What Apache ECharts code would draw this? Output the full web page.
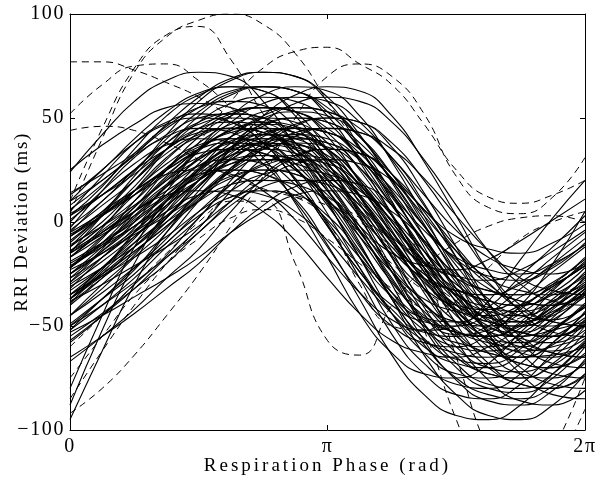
<!DOCTYPE html>
<html>
<head>
<meta charset="utf-8">
<script src="https://cdn.jsdelivr.net/npm/echarts@6/dist/echarts.min.js"></script>
<style>html,body{margin:0;padding:0;background:#fff}#c{width:606px;height:483px}</style>
</head>
<body>
<div id="c"></div>
<script>
// phase in units of pi (0 .. 2pi, step pi/8)
const phase = [0, 0.125, 0.25, 0.375, 0.5, 0.625, 0.75, 0.875, 1, 1.125, 1.25, 1.375, 1.5, 1.625, 1.75, 1.875, 2];
const xTickLabels = {0: '0', 1: 'π', 2: '2π'};
const yTicks = [-100, -50, 0, 50, 100];
const xTitle = 'Respiration Phase (rad)';
const yTitle = 'RRI Deviation (ms)';

// solid curves: RRI deviation (ms) at each phase
const solidCurves = [
  [24, 42, 58, 68, 72, 70, 58, 36, 10, -17, -36, -46, -48, -41, -26, -12, 3],
  [25, 37, 47, 55, 57, 55, 47, 33, 15, -2, -15, -21, -23, -18, -9, 1, 11],
  [-2, 10, 25, 38, 47, 50, 48, 38, 20, -2, -24, -40, -48, -50, -44, -32, -20],
  [-12, 0, 15, 28, 37, 40, 38, 28, 10, -12, -34, -50, -58, -60, -54, -42, -30],
  [3, 17, 35, 51, 61, 65, 63, 51, 29, 3, -24, -43, -53, -55, -48, -33, -19],
  [-17, -7, 5, 15, 23, 25, 23, 15, 1, -17, -34, -47, -53, -55, -50, -41, -31],
  [-22, -10, 2, 17, 30, 39, 42, 40, 30, 12, -10, -32, -48, -56, -58, -52, -40],
  [-9, 3, 15, 30, 43, 52, 55, 53, 43, 25, 3, -19, -35, -43, -45, -39, -27],
  [-22, -7, 7, 25, 41, 51, 55, 53, 41, 19, -7, -34, -53, -63, -65, -58, -43],
  [-37, -22, -8, 10, 26, 36, 40, 38, 26, 4, -22, -49, -68, -78, -80, -73, -58],
  [-11, -2, 8, 20, 30, 38, 40, 38, 30, 16, -2, -19, -32, -38, -40, -35, -26],
  [4, 13, 23, 35, 45, 53, 55, 53, 45, 31, 13, -4, -17, -23, -25, -20, -11],
  [-31, -22, -12, 0, 10, 18, 20, 18, 10, -4, -22, -39, -52, -58, -60, -55, -46],
  [-30, -19, -7, 5, 20, 33, 42, 45, 43, 33, 15, -7, -29, -45, -53, -55, -49],
  [-15, -4, 8, 20, 35, 48, 57, 60, 58, 48, 30, 8, -14, -30, -38, -40, -34],
  [-40, -27, -12, 2, 20, 36, 46, 50, 48, 36, 14, -12, -39, -58, -68, -70, -63],
  [-25, -12, 3, 17, 35, 51, 61, 65, 63, 51, 29, 3, -24, -43, -53, -55, -48],
  [-35, -26, -17, -7, 5, 15, 23, 25, 23, 15, 1, -17, -34, -47, -53, -55, -50],
  [-35, -25, -14, -2, 10, 25, 38, 47, 50, 48, 38, 20, -2, -24, -40, -48, -50],
  [-50, -40, -29, -17, -5, 10, 23, 32, 35, 33, 23, 5, -17, -39, -55, -63, -65],
  [-37, -25, -12, 3, 17, 35, 51, 61, 65, 63, 51, 29, 3, -24, -43, -53, -55],
  [-23, -15, -6, 3, 13, 25, 35, 43, 45, 43, 35, 21, 3, -14, -27, -33, -35],
  [0, 15, 28, 37, 40, 38, 28, 10, -12, -34, -50, -58, -60, -54, -42, -30, -18],
  [10, 25, 38, 47, 50, 48, 38, 20, -2, -24, -40, -48, -50, -44, -32, -20, -8],
  [-7, 5, 15, 23, 25, 23, 15, 1, -17, -34, -47, -53, -55, -50, -41, -31, -21],
  [13, 25, 40, 53, 62, 65, 63, 53, 35, 13, -9, -25, -33, -35, -29, -17, -5],
  [-29, -17, -5, 10, 23, 32, 35, 33, 23, 5, -17, -39, -55, -63, -65, -59, -47],
  [1, 13, 25, 40, 53, 62, 65, 63, 53, 35, 13, -9, -25, -33, -35, -29, -17],
  [-12, 3, 17, 35, 51, 61, 65, 63, 51, 29, 3, -24, -43, -53, -55, -48, -33],
  [-19, -10, 0, 12, 22, 30, 32, 30, 22, 8, -10, -27, -40, -46, -48, -43, -34],
  [-45, -34, -22, -10, 5, 18, 27, 30, 28, 18, 0, -22, -44, -60, -68, -70, -64],
  [-15, -6, 3, 13, 25, 35, 43, 45, 43, 35, 21, 3, -14, -27, -33, -35, -30],
  [-17, -3, 15, 31, 41, 45, 43, 31, 9, -17, -44, -63, -73, -75, -68, -53, -39],
  [-29, -14, 0, 18, 34, 44, 48, 46, 34, 12, -14, -41, -60, -70, -72, -65, -50],
  [-50, -37, -22, -8, 10, 26, 36, 40, 38, 26, 4, -22, -49, -68, -78, -80, -73],
  [-57, -45, -32, -17, -3, 15, 31, 41, 45, 43, 31, 9, -17, -44, -63, -73, -75],
  [-22, -10, 5, 18, 27, 30, 28, 18, 0, -22, -44, -60, -68, -70, -64, -52, -40],
  [-14, -2, 10, 25, 38, 47, 50, 48, 38, 20, -2, -24, -40, -48, -50, -44, -32],
  [-6, 3, 13, 25, 35, 43, 45, 43, 35, 21, 3, -14, -27, -33, -35, -30, -21],
  [3, 13, 25, 35, 43, 45, 43, 35, 21, 3, -14, -27, -33, -35, -30, -21, -11],
  [-25, -14, -2, 10, 25, 38, 47, 50, 48, 38, 20, -2, -24, -40, -48, -50, -44],
  [-3, 15, 31, 41, 45, 43, 31, 9, -17, -44, -63, -73, -75, -68, -53, -39, -24],
  [-45, -30, -16, 2, 18, 28, 32, 30, 18, -4, -30, -57, -76, -86, -88, -81, -66],
  [-58, -45, -30, -16, 2, 18, 28, 32, 30, 18, -4, -30, -57, -76, -86, -88, -81],
  [-95, -62, -30, -5, 12, 24, 30, 30, 25, 12, -8, -28, -45, -56, -62, -60, -55],
  [-88, -52, -20, 5, 20, 32, 38, 37, 32, 18, 0, -20, -38, -50, -55, -52, -48],
  [-80, -45, -12, 10, 25, 36, 42, 41, 35, 20, 0, -22, -42, -57, -65, -64, -60],
  [-39, -27, -15, 0, 13, 22, 25, 23, 13, -5, -27, -49, -65, -73, -75, -69, -57],
  [-27, -13, 5, 21, 31, 35, 33, 21, -1, -27, -54, -73, -83, -85, -78, -63, -49],
  [-25, -15, -4, 8, 20, 35, 48, 57, 60, 58, 48, 30, 8, -14, -30, -38, -40],
  [-5, 4, 13, 23, 35, 45, 53, 55, 53, 45, 31, 13, -4, -17, -23, -25, -20],
  [14, 23, 33, 45, 55, 63, 65, 63, 55, 41, 23, 6, -7, -13, -15, -10, -1],
  [-53, -45, -36, -27, -17, -5, 5, 13, 15, 13, 5, -9, -27, -44, -57, -63, -65],
  [-27, -17, -5, 5, 13, 15, 13, 5, -9, -27, -44, -57, -63, -65, -60, -51, -41],
  [-5, 10, 24, 42, 58, 68, 72, 70, 58, 36, 10, -17, -36, -46, -48, -41, -26],
  [-17, -5, 5, 13, 15, 13, 5, -9, -27, -44, -57, -63, -65, -60, -51, -41, -31],
  [-37, -26, -14, -2, 13, 26, 35, 38, 36, 26, 8, -14, -36, -52, -60, -62, -56],
  [-7, 5, 20, 33, 42, 45, 43, 33, 15, -7, -29, -45, -53, -55, -49, -37, -25],
  [-67, -55, -42, -27, -13, 5, 21, 31, 35, 33, 21, -1, -27, -54, -73, -83, -85],
  [8, 20, 32, 47, 60, 69, 72, 70, 60, 42, 20, -2, -18, -26, -28, -22, -10],
  [5, 22, 38, 48, 52, 48, 38, 20, -2, -24, -42, -52, -50, -38, -18, 2, 20],
  [-15, 3, 20, 35, 45, 48, 45, 35, 18, -4, -28, -46, -54, -52, -40, -20, 5],
  [-17, -5, 7, 22, 35, 44, 47, 45, 35, 17, -5, -27, -43, -51, -53, -47, -35],
  [-33, -22, -10, 2, 17, 30, 39, 42, 40, 30, 12, -10, -32, -48, -56, -58, -52],
  [-10, 4, 22, 38, 48, 52, 50, 38, 16, -10, -37, -56, -66, -68, -61, -46, -32],
  [-32, -17, -3, 15, 31, 41, 45, 43, 31, 9, -17, -44, -63, -73, -75, -68, -53],
  [-20, -11, -2, 8, 20, 30, 38, 40, 38, 30, 16, -2, -19, -32, -38, -40, -35],
  [-21, -12, -2, 10, 20, 28, 30, 28, 20, 6, -12, -29, -42, -48, -50, -45, -36],
  [-7, 3, 15, 25, 33, 35, 33, 25, 11, -7, -24, -37, -43, -45, -40, -31, -21],
  [-65, -55, -44, -32, -20, -5, 8, 17, 20, 18, 8, -10, -32, -54, -70, -78, -80],
  [-35, -22, -7, 7, 25, 41, 51, 55, 53, 41, 19, -7, -34, -53, -63, -65, -58],
  [6, 18, 33, 46, 55, 58, 56, 46, 28, 6, -16, -32, -40, -42, -36, -24, -12],
  [-45, -32, -17, -3, 15, 31, 41, 45, 43, 31, 9, -17, -44, -63, -73, -75, -68],
  [-39, -24, -10, 8, 24, 34, 38, 36, 24, 2, -24, -51, -70, -80, -82, -75, -60],
  [-22, -8, 10, 26, 36, 40, 38, 26, 4, -22, -49, -68, -78, -80, -73, -58, -44],
  [-52, -40, -27, -12, 2, 20, 36, 46, 50, 48, 36, 14, -12, -39, -58, -68, -70],
  [-4, 8, 20, 35, 48, 57, 60, 58, 48, 30, 8, -14, -30, -38, -40, -34, -22],
  [-14, -2, 13, 26, 35, 38, 36, 26, 8, -14, -36, -52, -60, -62, -56, -44, -32],
  [-22, -11, 1, 13, 28, 41, 50, 53, 51, 41, 23, 1, -21, -37, -45, -47, -41],
  [-52, -37, -23, -5, 11, 21, 25, 23, 11, -11, -37, -64, -83, -93, -95, -88, -73],
  [-55, -44, -32, -20, -5, 8, 17, 20, 18, 8, -10, -32, -54, -70, -78, -80, -74],
  [10, 20, 32, 42, 50, 52, 50, 42, 28, 10, -7, -20, -26, -28, -23, -14, -4],
  [-14, -5, 5, 17, 27, 35, 37, 35, 27, 13, -5, -22, -35, -41, -43, -38, -29],
  [-38, -30, -21, -12, -2, 10, 20, 28, 30, 28, 20, 6, -12, -29, -42, -48, -50],
  [-37, -23, -5, 11, 21, 25, 23, 11, -11, -37, -64, -83, -93, -95, -88, -73, -59],
  [-49, -37, -25, -10, 3, 12, 15, 13, 3, -15, -37, -59, -75, -83, -85, -79, -67]
];

// dashed curves
const dashedCurves = [
  [4, 40, 72, 89, 97, 100, 95, 81, 58, 35, 10, -22, -65, -110, -135, -110, -75],
  [10, 45, 74, 90, 94, 78, 52, 32, 15, -2, -22, -52, -95, -130, -140, -120, -90],
  [77, 77, 73, 67, 60, 50, 38, 25, 10, -5, -20, -33, -42, -45, -40, -30, -18],
  [52, 66, 75, 76, 68, 55, 40, 25, 12, 2, -8, -18, -30, -40, -45, -40, -30],
  [44, 46, 44, 38, 30, 22, 16, 12, 8, 0, -12, -25, -38, -45, -48, -44, -35],
  [-40, -25, -5, 15, 38, 58, 74, 82, 84, 76, 66, 47, 25, 12, 9, 13, 20],
  [-92, -80, -64, -45, -25, -2, 22, 50, 70, 76, 70, 52, 22, 7, 4, 12, 31],
  [-85, -62, -40, -20, -3, 10, 10, -20, -57, -64, -40, -22, -10, -2, 2, 3, 0],
  [-60, -45, -30, -15, 0, 12, 15, 12, 0, -30, -50, -52, -38, -22, -8, 0, 5],
  [-75, -55, -35, -20, -8, 2, 6, 2, -8, -20, -32, -42, -48, -50, -46, -38, -28]
];

// spaced lettering of the two axis titles, as in the reference
const titleSpacing = {};
titleSpacing[xTitle] = '3px';
titleSpacing[yTitle] = '1.6px';
(function () {
  const proto = CanvasRenderingContext2D.prototype;
  const orig = proto.fillText;
  proto.fillText = function (t, x, y, w) {
    if (titleSpacing[t] && 'letterSpacing' in this) {
      const prev = this.letterSpacing;
      this.letterSpacing = titleSpacing[t];
      const r = w === undefined ? orig.call(this, t, x, y) : orig.call(this, t, x, y, w);
      this.letterSpacing = prev;
      return r;
    }
    return w === undefined ? orig.call(this, t, x, y) : orig.call(this, t, x, y, w);
  };
})();

const FONT = 'Liberation Serif';
const toPts = c => phase.map((p, i) => [p, c[i]]);
const series = [];
solidCurves.forEach(c => series.push({
  type: 'line', data: toPts(c), smooth: true, showSymbol: false, silent: true,
  lineStyle: {color: '#000', width: 1.1}, animation: false
}));
dashedCurves.forEach(c => series.push({
  type: 'line', data: toPts(c), smooth: true, showSymbol: false, silent: true,
  lineStyle: {color: '#000', width: 1, type: [7, 5]}, animation: false
}));

const axisCommon = {
  axisLine: {show: true, onZero: false, lineStyle: {color: '#000', width: 1}},
  axisTick: {show: true, inside: true, length: 5, lineStyle: {color: '#000'}},
  splitLine: {show: false}
};

const chart = echarts.init(document.getElementById('c'), null, {renderer: 'canvas'});
chart.setOption({
  animation: false,
  backgroundColor: '#fff',
  grid: {left: 70, right: 21, top: 14, bottom: 53, containLabel: false, outerBoundsMode: 'none'},
  xAxis: [
    Object.assign({
      type: 'value', min: 0, max: 2, interval: 1, position: 'bottom',
      axisLabel: {color: '#000', fontFamily: FONT, fontSize: 20, margin: 7,
        formatter: v => xTickLabels[Math.round(v)] || ''},
      name: xTitle, nameLocation: 'middle', nameGap: 27, nameMoveOverlap: false,
      nameTextStyle: {color: '#000', fontFamily: FONT, fontSize: 19}
    }, axisCommon),
    Object.assign({
      type: 'value', min: 0, max: 2, interval: 1, position: 'top',
      axisLabel: {show: false}
    }, axisCommon)
  ],
  yAxis: [
    Object.assign({
      type: 'value', min: yTicks[0], max: yTicks[yTicks.length - 1], interval: 50, position: 'left',
      axisLabel: {color: '#000', fontFamily: FONT, fontSize: 20, margin: 5,
        formatter: v => String(v).replace('-', '\u2212')},
      name: yTitle, nameLocation: 'middle', nameGap: 38, nameMoveOverlap: false,
      nameTextStyle: {color: '#000', fontFamily: FONT, fontSize: 19}
    }, axisCommon),
    Object.assign({
      type: 'value', min: yTicks[0], max: yTicks[yTicks.length - 1], interval: 50, position: 'right',
      axisLabel: {show: false}
    }, axisCommon)
  ],
  series: series
});
</script>
</body>
</html>
